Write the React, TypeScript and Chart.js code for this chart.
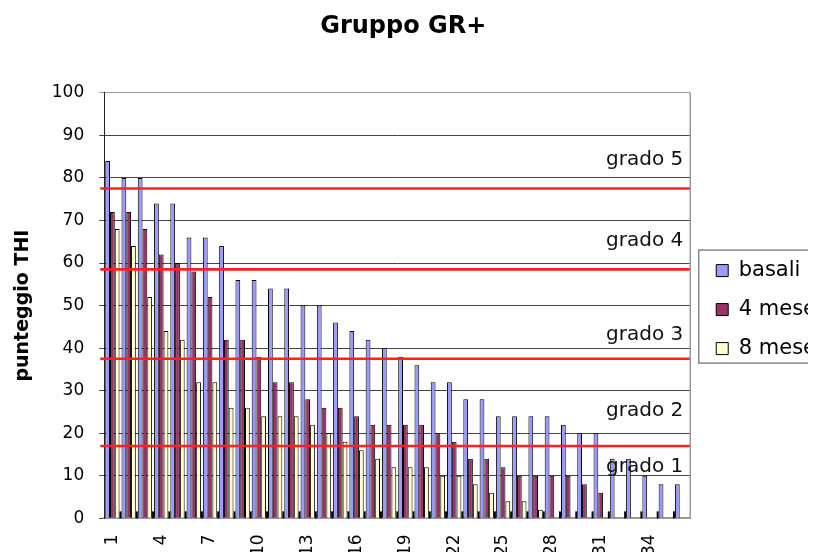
import React, { useEffect, useRef } from 'react';
import { Chart, registerables } from 'chart.js';

Chart.register(...registerables);

const FONT = '"DejaVu Sans", "Liberation Sans", Arial, sans-serif';

const categories = [
  '1', '2', '3', '4', '5', '6', '7', '8', '9', '10', '11', '12',
  '13', '14', '15', '16', '17', '18', '19', '20', '21', '22', '23', '24',
  '25', '26', '27', '28', '29', '30', '31', '32', '33', '34', '35', '36',
];
const shownTickLabels = ['1', '4', '7', '10', '13', '16', '19', '22', '25', '28', '31', '34'];

const seriesNames = ['basali', '4 mese', '8 mese'];
const basali = [84, 80, 80, 74, 74, 66, 66, 64, 56, 56, 54, 54, 50, 50, 46, 44, 42, 40, 38, 36, 32, 32, 28, 28, 24, 24, 24, 24, 22, 20, 20, 14, 14, 10, 8, 8];
const mesi4 = [72, 72, 68, 62, 60, 58, 52, 42, 42, 38, 32, 32, 28, 26, 26, 24, 22, 22, 22, 22, 20, 18, 14, 14, 12, 10, 10, 10, 10, 8, 6, 0, 0, 0, 0, 0];
const mesi8 = [68, 64, 52, 44, 42, 32, 32, 26, 26, 24, 24, 24, 22, 20, 18, 16, 14, 12, 12, 12, 10, 10, 8, 6, 4, 4, 2, 0, 0, 0, 0, 0, 0, 0, 0, 0];

const gradeThresholds = [17, 37.5, 58.5, 77.5];
const gradeLabels = ['grado 1', 'grado 2', 'grado 3', 'grado 4', 'grado 5'];
const gradeLabelValues = [11, 24, 42, 64, 83];

const overlayPlugin = {
  id: 'overlay',
  afterLayout(chart: any) {
    const lg = chart.legend;
    if (lg) {
      lg.left += 8;
      lg.right += 8;
      lg.top += 4;
      lg.bottom += 4;
    }
    const tb = chart.titleBlock;
    if (tb) {
      tb.left += 6;
      tb.right += 6;
    }
  },
  afterDatasetsDraw(chart: any) {
    const { ctx, chartArea: a, scales } = chart;
    const x = scales.x;
    const y = scales.y;
    ctx.save();
    // inside category tick marks
    const half = (x.getPixelForValue(1) - x.getPixelForValue(0)) / 2;
    ctx.fillStyle = '#000';
    for (let i = 1; i < categories.length; i++) {
      const bx = x.getPixelForValue(i) - half;
      ctx.fillRect(bx - 1, a.bottom - 7, 2, 7);
    }
    // threshold lines
    ctx.strokeStyle = '#ff2020';
    ctx.lineWidth = 2.6;
    gradeThresholds.forEach((v) => {
      const py = y.getPixelForValue(v);
      ctx.beginPath();
      ctx.moveTo(a.left - 4, py);
      ctx.lineTo(a.right, py);
      ctx.stroke();
    });
    // grade labels
    ctx.font = '20px ' + FONT;
    ctx.fillStyle = '#111';
    ctx.textAlign = 'right';
    ctx.textBaseline = 'alphabetic';
    gradeLabels.forEach((t, i) => {
      ctx.fillText(t, a.right - 7, y.getPixelForValue(gradeLabelValues[i]));
    });
    // right border
    ctx.strokeStyle = '#999';
    ctx.lineWidth = 1.5;
    ctx.beginPath();
    ctx.moveTo(a.right, a.top);
    ctx.lineTo(a.right, a.bottom);
    ctx.stroke();
    ctx.restore();
  },
  afterDraw(chart: any) {
    const lg = chart.legend;
    if (!lg || !lg.legendHitBoxes || !lg.legendHitBoxes.length) return;
    const hb = lg.legendHitBoxes;
    const { ctx } = chart;
    const top = hb[0].top - 10;
    const last = hb[hb.length - 1];
    const bottom = last.top + last.height + 4;
    ctx.save();
    ctx.strokeStyle = '#888';
    ctx.lineWidth = 1.5;
    ctx.strokeRect(lg.left + 0.5, top, chart.width, bottom - top);
    ctx.restore();
  },
};

export default function App() {
  const ref = useRef<HTMLCanvasElement | null>(null);

  useEffect(() => {
    if (!ref.current) return;
    Chart.defaults.font.family = FONT;
    Chart.defaults.color = '#000';
    const chart = new Chart(ref.current, {
      type: 'bar',
      data: {
        labels: categories,
        datasets: [
          { label: seriesNames[0], data: basali, backgroundColor: '#9999ff', borderColor: '#000', borderWidth: 1 },
          { label: seriesNames[1], data: mesi4, backgroundColor: '#993366', borderColor: '#000', borderWidth: 1 },
          { label: seriesNames[2], data: mesi8, backgroundColor: '#ffffcc', borderColor: '#000', borderWidth: 1 },
        ],
      },
      options: {
        responsive: false,
        animation: false,
        datasets: { bar: { categoryPercentage: 0.88, barPercentage: 1.0 } },
        layout: { padding: { left: 0, right: 20, top: 0, bottom: 4 } },
        plugins: {
          title: {
            display: true,
            text: 'Gruppo GR+',
            fullSize: false,
            color: '#000',
            font: { size: 24, weight: 'bold', family: FONT },
            padding: { top: 4, bottom: 52 },
          },
          legend: {
            position: 'right',
            fullSize: false,
            align: 'center',
            labels: {
              boxWidth: 12,
              boxHeight: 12,
              padding: 18,
              color: '#000',
              font: { size: 21, family: FONT },
            },
          },
          tooltip: { enabled: false },
        },
        scales: {
          x: {
            grid: { display: false, drawTicks: false },
            border: { display: true, color: '#999', width: 2 },
            ticks: {
              autoSkip: false,
              maxRotation: 90,
              minRotation: 90,
              padding: 16,
              color: '#000',
              font: { size: 17, family: FONT },
              callback: (_v: any, i: number) => (shownTickLabels.includes(categories[i]) ? categories[i] : ''),
            },
          },
          y: {
            min: 0,
            max: 100,
            ticks: { stepSize: 10, padding: 15, color: '#000', font: { size: 17, family: FONT } },
            grid: {
              color: (c: any) => (c.tick && c.tick.value === 100 ? '#999' : '#444'),
              tickLength: 5,
              drawTicks: true,
            },
            border: { display: true, color: '#222', width: 1 },
            title: {
              display: true,
              text: 'punteggio THI',
              color: '#000',
              font: { size: 19, weight: 'bold', family: FONT },
              padding: { top: 4, bottom: 2 },
            },
          },
        },
      },
      plugins: [overlayPlugin],
    });
    return () => chart.destroy();
  }, []);

  return (
    <div style={{ width: 808, height: 552, overflow: 'hidden', marginBottom: -8 }}>
      <canvas ref={ref} width={830} height={568} style={{ width: 830, height: 568, display: 'block' }} />
    </div>
  );
}
